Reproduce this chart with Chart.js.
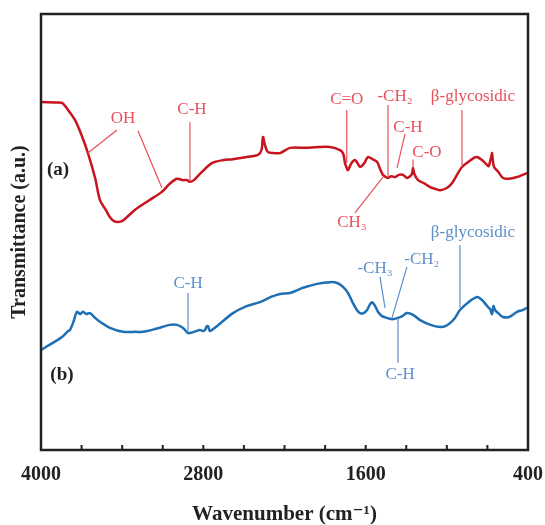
<!DOCTYPE html>
<html>
<head>
<meta charset="utf-8">
<script src="https://cdn.jsdelivr.net/npm/chart.js@4.4.1/dist/chart.umd.min.js"></script>
<style>
  html, body { margin: 0; padding: 0; background: #fff; }
  #wrap { width: 545px; height: 525px; position: relative; }
</style>
</head>
<body>
<div id="wrap"><canvas id="c"></canvas></div>
<script>
// ---- data (wavenumber in cm-1, transmittance in arbitrary units) ----
const wavenumbersA = [4000,3900,3845,3800,3749,3700,3653,3600,3564,3520,3490,3460,3431,3400,3300,3200,3106,3050,2995,2950,2920,2899,2870,2820,2736,2650,2581,2480,2396,2370,2359,2345,2322,2280,2233,2159,2050,1950,1864,1790,1765,1753,1740,1731,1705,1679,1660,1642,1610,1583,1550,1516,1490,1472,1450,1435,1410,1383,1355,1324,1295,1272,1258,1250,1240,1213,1170,1124,1085,1050,1000,962,925,888,840,800,777,740,703,690,681,670,666,660,651,620,585,540,481,440,407,400];
const seriesA = [79.8,79.7,79.6,78.0,75.7,72.2,68.1,62.4,57.3,55.0,53.4,52.5,52.3,52.5,55.2,57.3,59.2,61.0,62.2,61.9,61.9,61.5,61.9,63.5,65.8,66.5,66.7,67.2,67.7,68.8,71.8,70.0,68.3,68.1,68.1,69.3,69.3,69.5,69.5,68.8,67.9,65.8,64.7,64.2,65.8,66.5,65.8,64.9,65.8,67.2,66.7,66.1,64.2,63.1,62.6,62.4,62.8,62.6,63.1,63.1,62.4,62.8,63.3,64.7,63.3,61.9,61.2,60.3,59.9,59.6,60.1,61.2,63.1,64.9,66.1,67.0,67.2,66.5,65.4,65.1,66.1,67.4,68.1,66.5,64.9,63.8,62.4,62.2,62.6,63.1,63.5,63.5];

const wavenumbersB = [4000,3950,3900,3845,3800,3786,3760,3734,3710,3690,3665,3638,3600,3564,3490,3394,3300,3246,3150,3046,2995,2950,2913,2870,2825,2800,2788,2775,2765,2751,2700,2581,2480,2381,2300,2233,2159,2063,1960,1864,1810,1768,1730,1694,1665,1642,1615,1590,1570,1553,1530,1509,1480,1443,1400,1361,1330,1295,1250,1198,1120,1050,1010,977,940,903,840,777,740,696,680,666,655,644,620,585,540,481,440,407,400];
const seriesB = [22.9,23.9,24.8,25.9,27.3,27.5,29.4,31.7,31.2,31.7,31.2,31.4,30.3,29.4,28.0,27.1,27.1,27.1,27.8,28.7,28.7,28.0,26.8,27.1,27.5,27.3,27.5,28.4,28.4,27.3,28.4,31.4,33.0,33.9,35.1,35.8,36.0,37.2,38.1,38.5,38.3,37.4,36.0,33.7,32.1,31.4,31.4,32.1,33.3,33.9,33.0,31.7,30.7,30.3,30.0,30.3,30.7,31.4,31.0,29.8,28.7,28.2,28.4,29.1,30.3,32.1,33.9,35.1,34.4,32.8,32.3,31.2,33.0,32.1,31.4,30.5,30.5,31.7,32.1,32.6,32.6];

const seriesNames = ["(a)", "(b)"];
const tickLabels = [4000, 2800, 1600, 400];

// band assignments: label, text anchor [wn, value], leader lines [[wn1,v1,wn2,v2],...]
const bandLabelsA = ["OH", "C-H", "C=O", "-CH\u2082", "\u03B2-glycosidic", "C-H", "C-O", "CH\u2083"];
const bandTextA = [[3394,76.1],[2884,78.0],[1740,80.3],[1383,81.0],[807,81.0],[1287,73.9],[1147,68.3],[1701,52.1]];
const bandLinesA = [
  [[3438,73.4,3653,68.1],[3283,73.2,3106,60.1]],
  [[2899,75.2,2899,61.9]],
  [[1740,78.0,1740,65.8]],
  [[1435,79.1,1435,62.6]],
  [[888,78.0,888,64.9]],
  [[1309,72.5,1368,64.7]],
  [[1250,66.6,1250,64.9]],
  [[1679,54.4,1472,62.6]]
];
const bandLabelsB = ["C-H", "\u03B2-glycosidic", "-CH\u2083", "-CH\u2082", "C-H"];
const bandTextB = [[2913,38.1],[807,49.8],[1531,41.7],[1184,43.6],[1346,17.2]];
const bandLinesB = [
  [[2913,36.0,2913,27.1]],
  [[903,47.0,903,32.6]],
  [[1494,39.7,1457,32.6]],
  [[1295,42.0,1405,30.3]],
  [[1361,30.3,1361,20.0]]
];
const seriesLabelPos = [[3874,64.2],[3845,17.2]];

// ---- styles ----
const RED = '#c8141e', RED_ANN = '#e8505a';
const BLUE = '#1f6fb4', BLUE_ANN = '#5d8fc8';
const SERIF = '"Liberation Serif", "DejaVu Serif", serif';

const toXY = (xs, ys) => xs.map((x, i) => ({x: x, y: ys[i]}));

const overlay = {
  id: 'overlay',
  afterDatasetsDraw(chart) {
    const {ctx, chartArea: a, scales: {x, y}} = chart;
    ctx.save();
    const drawSet = (labels, texts, lines, color) => {
      ctx.strokeStyle = color; ctx.fillStyle = color; ctx.lineWidth = 1.2;
      ctx.font = '17px ' + SERIF; ctx.textAlign = 'center'; ctx.textBaseline = 'middle';
      labels.forEach((lab, i) => {
        ctx.fillText(lab, x.getPixelForValue(texts[i][0]), y.getPixelForValue(texts[i][1]));
        lines[i].forEach(l => {
          ctx.beginPath();
          ctx.moveTo(x.getPixelForValue(l[0]), y.getPixelForValue(l[1]));
          ctx.lineTo(x.getPixelForValue(l[2]), y.getPixelForValue(l[3]));
          ctx.stroke();
        });
      });
    };
    drawSet(bandLabelsA, bandTextA, bandLinesA, RED_ANN);
    drawSet(bandLabelsB, bandTextB, bandLinesB, BLUE_ANN);
    ctx.fillStyle = '#222'; ctx.font = 'bold 19px ' + SERIF;
    seriesNames.forEach((n, i) => ctx.fillText(n, x.getPixelForValue(seriesLabelPos[i][0]), y.getPixelForValue(seriesLabelPos[i][1])));
    // frame
    ctx.strokeStyle = '#222'; ctx.lineWidth = 2.5;
    ctx.strokeRect(a.left, a.top, a.right - a.left, a.bottom - a.top);
    // inward ticks
    ctx.lineWidth = 2;
    x.ticks.forEach(t => {
      const px = x.getPixelForValue(t.value);
      ctx.beginPath(); ctx.moveTo(px, a.bottom); ctx.lineTo(px, a.bottom - 5); ctx.stroke();
    });
    ctx.restore();
  }
};

new Chart(document.getElementById('c'), {
  type: 'line',
  data: {
    datasets: [
      { label: seriesNames[0], data: toXY(wavenumbersA, seriesA), borderColor: RED, borderWidth: 2.5, pointRadius: 0, tension: 0.3, fill: false },
      { label: seriesNames[1], data: toXY(wavenumbersB, seriesB), borderColor: BLUE, borderWidth: 2.5, pointRadius: 0, tension: 0.3, fill: false }
    ]
  },
  options: {
    responsive: true, maintainAspectRatio: false, animation: false,
    layout: { padding: { top: 14, right: 0, left: 0, bottom: 0 } },
    plugins: { legend: { display: false }, tooltip: { enabled: false } },
    scales: {
      x: {
        type: 'linear', reverse: true, min: 400, max: 4000,
        grid: { display: false, drawTicks: false }, border: { display: false },
        ticks: {
          stepSize: 300, autoSkip: false, maxRotation: 0, padding: 13, color: '#222',
          font: { family: SERIF, size: 20, weight: 'bold' },
          callback: v => tickLabels.includes(v) ? String(v) : ''
        },
        title: { display: true, text: 'Wavenumber (cm\u207B\u00B9)', color: '#222', padding: { top: 0, bottom: 0 },
          font: { family: SERIF, size: 21, weight: 'bold', lineHeight: 1 } },
        afterFit: s => { s.height = 75; s.paddingRight = 17; s.paddingLeft = 20; }
      },
      y: {
        min: 0, max: 100,
        grid: { display: false, drawTicks: false }, border: { display: false },
        ticks: { display: false },
        title: { display: true, text: 'Transmittance (a.u.)', color: '#222', padding: { top: 8, bottom: 0 },
          font: { family: SERIF, size: 20, weight: 'bold' } },
        afterFit: s => { s.width = 41; }
      }
    }
  },
  plugins: [overlay]
});
</script>
</body>
</html>
